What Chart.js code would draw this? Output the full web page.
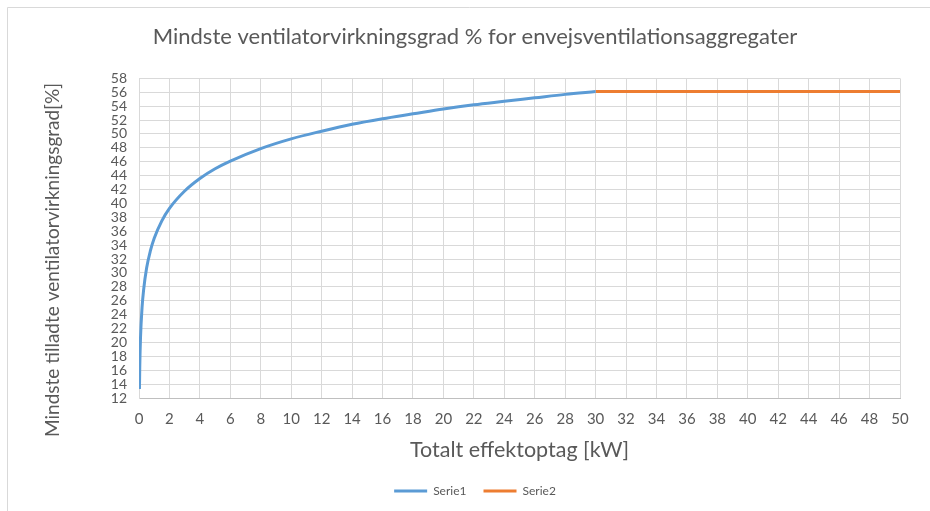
<!DOCTYPE html>
<html>
<head>
<meta charset="utf-8">
<script src="https://cdn.jsdelivr.net/npm/chart.js@4/dist/chart.umd.min.js"></script>
<style>
  html, body { margin: 0; padding: 0; background: #fff; }
  #wrap { position: relative; width: 930px; height: 511px; }
</style>
</head>
<body>
<div id="wrap"><canvas id="c" width="930" height="511"></canvas></div>
<script>
// Minimum fan efficiency, unidirectional ventilation units
const serie1Power = [0.03, 0.05, 0.1, 0.2, 0.3, 0.5, 0.75, 1, 1.5, 2, 3, 4, 5, 6, 8, 10, 12, 14, 16, 18, 20, 22, 24, 26, 28, 30];
const serie1Eff   = [13.3, 16.4, 20.7, 25.0, 27.5, 30.7, 33.2, 35.0, 37.5, 39.3, 41.8, 43.6, 45.0, 46.1, 47.9, 49.3, 50.4, 51.4, 52.2, 52.9, 53.6, 54.2, 54.7, 55.2, 55.7, 56.1];
const serie2Power = [30, 50];
const serie2Eff   = [56.1, 56.1];

const seriesNames = ['Serie1', 'Serie2'];
const chartTitle = 'Mindste ventilatorvirkningsgrad % for envejsventilationsaggregater';
const xTitle = 'Totalt effektoptag [kW]';
const yTitle = 'Mindste tilladte ventilatorvirkningsgrad[%]';
const xMin = 0, xMax = 50, xStep = 2;
const yMin = 12, yMax = 58, yStep = 2;

const toPoints = (xs, ys) => xs.map((x, i) => ({ x: x, y: ys[i] }));

const FONT = "Lato, 'Open Sans', sans-serif";
const TEXT = '#595959';
const GRID = '#d9d9d9';

// white background and the thin frame around the chart
const frame = {
  id: 'frame',
  beforeDraw(chart) {
    const ctx = chart.ctx;
    ctx.save();
    ctx.fillStyle = '#ffffff';
    ctx.fillRect(0, 0, chart.width, chart.height);
    ctx.strokeStyle = GRID;
    ctx.lineWidth = 1;
    ctx.beginPath();
    ctx.moveTo(7.5, chart.height + 2);
    ctx.lineTo(7.5, 7.5);
    ctx.lineTo(chart.width + 2, 7.5);
    ctx.stroke();
    ctx.restore();
  }
};

// vertical axis title, centred on the whole chart height
const yAxisTitle = {
  id: 'yAxisTitle',
  afterDraw(chart) {
    const ctx = chart.ctx;
    ctx.save();
    ctx.translate(53, 260);
    ctx.rotate(-Math.PI / 2);
    ctx.font = "19px " + FONT;
    ctx.fillStyle = TEXT;
    ctx.textAlign = 'center';
    ctx.textBaseline = 'middle';
    ctx.fillText(yTitle, 0, 0);
    ctx.restore();
  }
};

new Chart(document.getElementById('c'), {
  type: 'line',
  data: {
    datasets: [
      {
        label: seriesNames[0],
        data: toPoints(serie1Power, serie1Eff),
        borderColor: '#5b9bd5',
        backgroundColor: '#5b9bd5',
        borderWidth: 3,
        pointRadius: 0,
        cubicInterpolationMode: 'monotone'
      },
      {
        label: seriesNames[1],
        data: toPoints(serie2Power, serie2Eff),
        borderColor: '#ed7d31',
        backgroundColor: '#ed7d31',
        borderWidth: 3,
        pointRadius: 0
      }
    ]
  },
  options: {
    responsive: false,
    animation: false,
    devicePixelRatio: 1,
    layout: { padding: { left: 50, right: 30, top: 0, bottom: 4 } },
    plugins: {
      title: {
        display: true,
        text: chartTitle,
        color: TEXT,
        font: { family: FONT, size: 22, weight: 'normal' },
        padding: { top: 24, bottom: 28 }
      },
      legend: {
        position: 'bottom',
        labels: {
          color: TEXT,
          font: { family: FONT, size: 12 },
          usePointStyle: true,
          pointStyle: 'line',
          pointStyleWidth: 33,
          boxHeight: 3,
          padding: 17
        }
      },
      tooltip: { enabled: false }
    },
    scales: {
      x: {
        type: 'linear',
        min: xMin, max: xMax,
        grid: { color: GRID, drawTicks: false },
        border: { color: '#bfbfbf' },
        afterFit(scale) { scale.height = 70; },
        ticks: {
          stepSize: xStep,
          color: TEXT,
          font: { family: FONT, size: 15 },
          padding: 12,
          maxRotation: 0,
          autoSkip: false
        },
        title: {
          display: true,
          text: xTitle,
          color: TEXT,
          font: { family: FONT, size: 21.5 },
          padding: { top: 0, bottom: 5 }
        }
      },
      y: {
        min: yMin, max: yMax,
        grid: { color: GRID, drawTicks: false },
        border: { color: GRID },
        afterFit(scale) { scale.width = 89; },
        ticks: {
          stepSize: yStep,
          color: TEXT,
          font: { family: FONT, size: 14 },
          padding: 12,
          autoSkip: false
        }
      }
    }
  },
  plugins: [frame, yAxisTitle]
});
</script>
</body>
</html>
